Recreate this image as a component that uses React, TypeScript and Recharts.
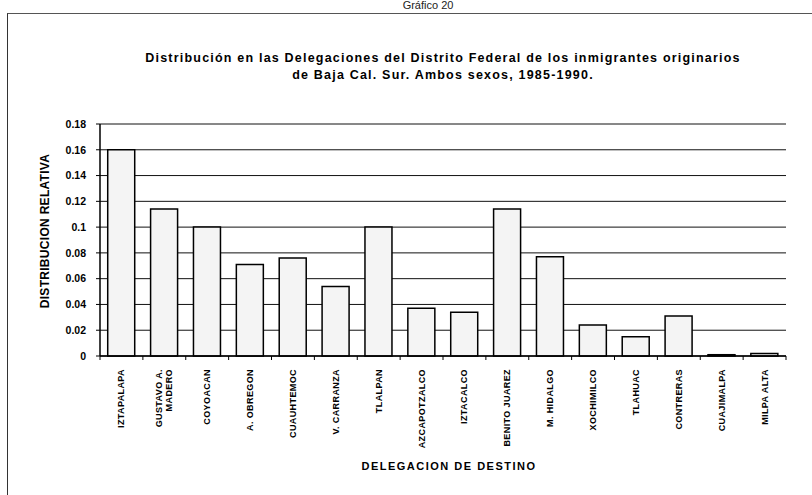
import { BarChart, Bar, XAxis, YAxis, CartesianGrid } from 'recharts';

const delegaciones = [
  'IZTAPALAPA',
  'GUSTAVO A.|MADERO',
  'COYOACAN',
  'A. OBREGON',
  'CUAUHTEMOC',
  'V. CARRANZA',
  'TLALPAN',
  'AZCAPOTZALCO',
  'IZTACALCO',
  'BENITO JUAREZ',
  'M. HIDALGO',
  'XOCHIMILCO',
  'TLAHUAC',
  'CONTRERAS',
  'CUAJIMALPA',
  'MILPA ALTA',
];

const distribucion = [
  0.16, 0.114, 0.1, 0.071, 0.076, 0.054, 0.1, 0.037, 0.034, 0.114, 0.077, 0.024,
  0.015, 0.031, 0.001, 0.002,
];

const yTicks = [0, 0.02, 0.04, 0.06, 0.08, 0.1, 0.12, 0.14, 0.16, 0.18];

const data = delegaciones.map((d, i) => ({ name: d, value: distribucion[i] }));

const FONT = '"Liberation Sans", Arial, sans-serif';

const CategoryTick = (props: any) => {
  const { x, y, payload, index } = props;
  const half = payload && payload.offset ? payload.offset : 21.4;
  const lines = String(payload.value).split('|');
  const lh = 10;
  return (
    <g>
      <line x1={x - half} y1={y} x2={x - half} y2={y + 4} stroke="#000" strokeWidth={1} />
      {index === delegaciones.length - 1 && (
        <line x1={x + half} y1={y} x2={x + half} y2={y + 4} stroke="#000" strokeWidth={1} />
      )}
      <text
        transform={`translate(${x}, ${y + 13}) rotate(-90)`}
        textAnchor="end"
        fontFamily={FONT}
        fontSize={9}
        fontWeight="bold"
        letterSpacing={0.4}
        fill="#000"
      >
        {lines.map((l, i) => (
          <tspan key={i} x={0} y={(i - (lines.length - 1) / 2) * lh} dominantBaseline="central">
            {l}
          </tspan>
        ))}
      </text>
    </g>
  );
};

export default function App() {
  return (
    <div
      style={{
        position: 'absolute',
        left: 0,
        top: 0,
        width: 812,
        height: 495,
        background: '#fff',
        overflow: 'hidden',
        fontFamily: FONT,
      }}
    >
      <div
        style={{
          position: 'absolute',
          left: 428,
          top: -1,
          transform: 'translateX(-50%)',
          fontSize: 11,
          lineHeight: '13px',
          color: '#222',
          whiteSpace: 'nowrap',
        }}
      >
        Gráfico 20
      </div>
      <div
        style={{
          position: 'absolute',
          left: 7,
          top: 13,
          width: 812,
          height: 500,
          borderLeft: '1px solid #333',
          borderTop: '1px solid #555',
        }}
      />
      <div
        style={{
          position: 'absolute',
          left: 443,
          top: 50,
          transform: 'translateX(-50%)',
          textAlign: 'center',
          fontSize: 12.5,
          fontWeight: 'bold',
          letterSpacing: 1.2,
          lineHeight: '17px',
          whiteSpace: 'nowrap',
        }}
      >
        Distribución en las Delegaciones del Distrito Federal de los inmigrantes originarios
        <br />
        de Baja Cal. Sur. Ambos sexos, 1985-1990.
      </div>
      <div
        style={{
          position: 'absolute',
          left: 45,
          top: 231,
          transform: 'translate(-50%, -50%) rotate(-90deg)',
          fontSize: 12,
          fontWeight: 'bold',
          letterSpacing: 0.3,
          whiteSpace: 'nowrap',
        }}
      >
        DISTRIBUCION RELATIVA
      </div>
      <div
        style={{
          position: 'absolute',
          left: 449,
          top: 466,
          transform: 'translate(-50%, -50%)',
          fontSize: 11,
          fontWeight: 'bold',
          letterSpacing: 1.5,
          whiteSpace: 'nowrap',
        }}
      >
        DELEGACION DE DESTINO
      </div>
      <div style={{ position: 'absolute', left: 0, top: 0 }}>
        <BarChart
          width={812}
          height={495}
          data={data}
          margin={{ top: 124, right: 26, left: 40, bottom: 0 }}
          barCategoryGap="18%"
        >
          <CartesianGrid horizontal vertical={false} stroke="#111" strokeWidth={1} />
          <XAxis
            dataKey="name"
            interval={0}
            height={139}
            tickLine={false}
            tickSize={0}
            tickMargin={0}
            axisLine={{ stroke: '#000', strokeWidth: 1.5 }}
            tick={<CategoryTick />}
          />
          <YAxis
            width={60}
            domain={[0, 0.18]}
            ticks={yTicks}
            interval={0}
            axisLine={{ stroke: '#000', strokeWidth: 1.5 }}
            tickLine={{ stroke: '#000' }}
            tickSize={4}
            tickMargin={10}
            tick={{ fontSize: 10.5, fontWeight: 'bold', fill: '#000', fontFamily: FONT }}
            tickFormatter={(v: number) => String(v)}
          />
          <Bar
            dataKey="value"
            fill="#f4f4f4"
            stroke="#000"
            strokeWidth={1.5}
            isAnimationActive={false}
          />
        </BarChart>
      </div>
    </div>
  );
}
